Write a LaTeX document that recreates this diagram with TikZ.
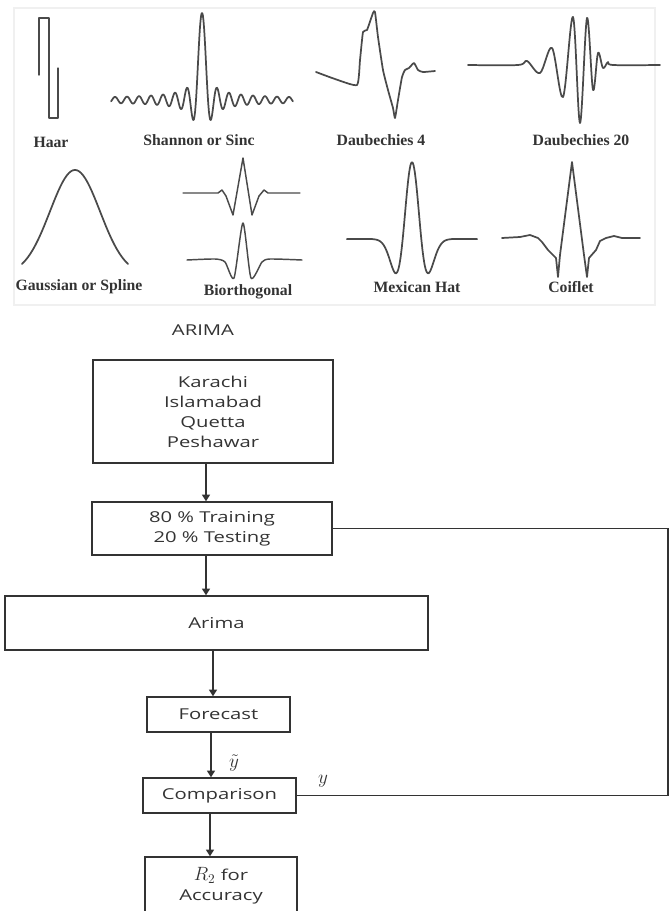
\documentclass[tikz,border=0pt]{standalone}
\usepackage{fontspec}
\setmainfont{Open Sans}
\newfontfamily\flowfont[FakeStretch=1.35]{Open Sans}
\newfontfamily\wavfont{Liberation Serif}
\usetikzlibrary{arrows.meta}
\definecolor{ink}{HTML}{333333}
\definecolor{wav}{HTML}{4A4A4A}
\begin{document}
\begin{tikzpicture}[x=0.75pt,y=-0.75pt,
  flowbox/.style={draw=ink, line width=1.1pt, align=center, inner sep=0pt, text=ink,
    font=\flowfont\fontsize{11.25}{15}\selectfont},
  arr/.style={draw=ink, line width=1.1pt, -{Triangle[width=6pt,length=5pt]}},
  conn/.style={draw=ink, line width=1.1pt},
  wave/.style={draw=wav, line width=1.3pt, line join=round, line cap=round},
  wlabel/.style={text=ink, font=\wavfont\bfseries\fontsize{11.8}{13}\selectfont, inner sep=0pt},
  mlabel/.style={text=ink, inner sep=0pt, font=\fontsize{15}{17}\selectfont}]
\useasboundingbox (0,0) rectangle (671,911);

% ---------- wavelet panel ----------
\draw[gray!12, line width=0.8pt] (14,8) rectangle (655,305);

% Haar
\draw[wave, line width=1pt] (39,75) -- (39,18) -- (49,18) -- (49,118) -- (58,118) -- (58,68);
\node[wlabel] (lhaar) at (51,142) {Haar};

% Shannon / Sinc
\draw[wave] plot[domain=-15.15:15.15, samples=304]
  ({202+6*\x}, {100-(87/(pi*abs(\x))+1.2)*sin(180*abs(\x))});
\node[wlabel] (lsinc) at (199,140) {Shannon or Sinc};

% Daubechies 4
\draw[wave] plot[smooth, tension=0.3] coordinates {(316,72) (335,79) (357,85) (360,60) (363,32)
  (367,30) (373,13) (375,12) (378,37) (383,70) (388,90) (393,108) (395,118) (398,100)
  (402,77) (405,70) (409,68) (414,63) (418,70) (423,72) (435,71)};
\node[wlabel] (ld4) at (381,140) {Daubechies 4};

% Daubechies 20
\draw[wave] plot[smooth, tension=0.55] coordinates {(468,65) (518,65) (527,61) (540,73)
  (552,48) (563,97) (573,17) (580,123) (587,18) (593,90) (598,53) (603,68) (608,62)
  (613,65) (660,65)};
\node[wlabel] (ld20) at (581,140) {Daubechies 20};

% Gaussian
\draw[wave] plot[domain=-53:53, samples=80] ({75+\x}, {275-105*exp(-(\x*\x)/1250)});
\node[wlabel] (lgauss) at (79,287) {Gaussian or Spline};

% Biorthogonal
\draw[wave, line width=1.1pt] (183,193) -- (218,193) -- (222,190) -- (226,196) -- (233,215)
  -- (243,158) -- (252,215) -- (259,196) -- (264,190) -- (268,193) -- (300,193);
\draw[wave, line width=1.1pt] plot[smooth, tension=0.4] coordinates {(187,260) (215,259)
  (225,262) (234,278) (243,223) (251,278) (262,262) (270,259) (302,260)};
\node[wlabel] (lbio) at (248,292) {Biorthogonal};

% Mexican hat
\draw[wave] plot[domain=-7:7, samples=120]
  ({412+9.3*\x}, {239-77*(1-\x*\x)*exp(-\x*\x/2)});
\node[wlabel] (lmex) at (417,287) {Mexican Hat};

% Coiflet
\draw[wave] (502,238) -- (520,237) -- (530,235) -- (538,238) -- (542,242) -- (548,250)
  -- (556,258) -- (558,277) -- (560,255) -- (572,162) -- (584,255) -- (587,277)
  -- (589,258) -- (596,250) -- (600,241) -- (606,238) -- (614,236) -- (622,238) -- (640,238);
\node[wlabel] (lcoif) at (571,287) {Coiflet};

% ---------- flowchart ----------
\node[text=ink, inner sep=0pt, font=\flowfont\fontsize{11.25}{15}\selectfont] (title) at (203,330) {ARIMA};

\node[flowbox, minimum width=180pt, minimum height=77.25pt] (cities) at (213,411.5)
  {Karachi\\Islamabad\\Quetta\\Peshawar};
\node[flowbox, minimum width=180pt, minimum height=39.75pt] (split) at (212,528.5)
  {80 \% Training\\20 \% Testing};
\node[flowbox, minimum width=317.25pt, minimum height=40.5pt] (arima) at (216.5,623) {Arima};
\node[flowbox, minimum width=107.25pt, minimum height=26.25pt] (fcast) at (218.5,714.5) {Forecast};
\node[flowbox, minimum width=114.75pt, minimum height=26.25pt] (comp) at (219.5,795.5) {Comparison};
\node[flowbox, minimum width=114pt, minimum height=42.75pt] (acc) at (221,885.5)
  {{\fontsize{14}{15}\selectfont$R_2$} for\\Accuracy};

\coordinate (xa) at (206,0);
\coordinate (xb) at (213,0);
\coordinate (xc) at (211,0);
\coordinate (xd) at (210,0);
\coordinate (fb) at (668,0);

\draw[arr] (xa |- cities.south) -- (xa |- split.north);
\draw[arr] (xa |- split.south) -- (xa |- arima.north);
\draw[arr] (xb |- arima.south) -- (xb |- fcast.north);
\draw[arr] (xc |- fcast.south) -- (xc |- comp.north);
\draw[arr] (xd |- comp.south) -- (xd |- acc.north);

\draw[conn] (split.east) -- (fb |- split.east) -- (fb |- comp.east) -- (comp.east);

\node[mlabel] (yhat) at (234,763) {$\tilde{y}$};
\node[mlabel] (ylab) at (323,781) {$y$};
\end{tikzpicture}
\end{document}
